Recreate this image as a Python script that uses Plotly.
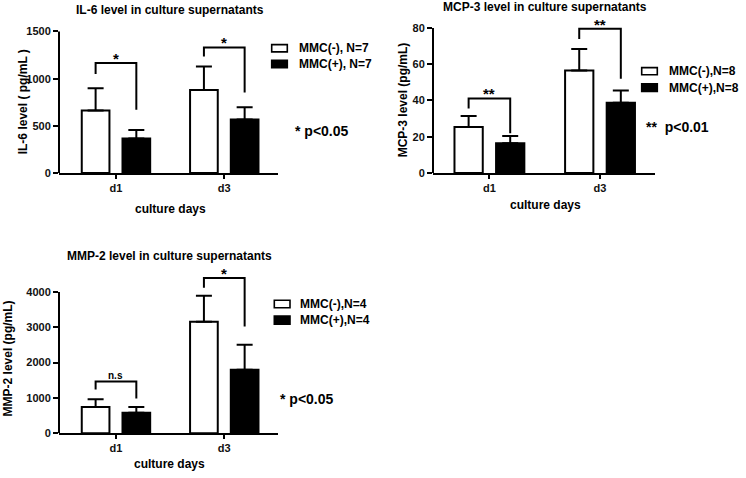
import plotly.graph_objects as go

W, H = 746, 478
FONT = "Liberation Sans, Arial, sans-serif"

days = ["d1", "d3"]

# ---- IL-6 ----
il6_neg = [664, 879]
il6_neg_err = [235, 249]
il6_pos = [366, 567]
il6_pos_err = [90, 131]
il6_br_top = [1165, 1331]
il6_br_left = [1051, 1234]
il6_br_right = [671, 854]
il6_sig = ["*", "*"]
il6_ticks = [0, 500, 1000, 1500]
il6_names = ["MMC(-), N=7", "MMC(+), N=7"]

# ---- MCP-3 ----
mcp3_neg = [25.4, 56.6]
mcp3_neg_err = [6.0, 11.9]
mcp3_pos = [16.4, 38.7]
mcp3_pos_err = [4.0, 6.8]
mcp3_br_top = [41.1, 79.6]
mcp3_br_left = [35.6, 74.0]
mcp3_br_right = [21.9, 52.0]
mcp3_sig = ["**", "**"]
mcp3_ticks = [0, 20, 40, 60, 80]
mcp3_names = ["MMC(-),N=8", "MMC(+),N=8"]

# ---- MMP-2 ----
mmp2_neg = [740, 3155]
mmp2_neg_err = [222, 742]
mmp2_pos = [580, 1798]
mmp2_pos_err = [159, 705]
mmp2_br_top = [1463, 4399]
mmp2_br_left = [1240, 4120]
mmp2_br_right = [981, 3024]
mmp2_sig = ["n.s", "*"]
mmp2_ticks = [0, 1000, 2000, 3000, 4000]
mmp2_names = ["MMC(-),N=4", "MMC(+),N=4"]

BARGAP = 0.248
BARGROUPGAP = 0.32


def px(xp):
    return xp / W


def py(yp):
    return 1 - yp / H


panels = [
    dict(ax="", neg=il6_neg, neg_err=il6_neg_err, pos=il6_pos, pos_err=il6_pos_err,
         top=il6_br_top, left=il6_br_left, right=il6_br_right, sig=il6_sig,
         ticks=il6_ticks, names=il6_names, yrange_top=1560,
         xdom=(59, 278), ydom_bottom=174, ydom_axis=30, xrange=[-0.526, 1.496],
         title="IL-6 level in culture supernatants", title_pos=(170, 8.5),
         ytitle="IL-6 level ( pg/mL )", ytitle_pos=(23, 102),
         xtitle_pos=(170, 211),
         leg_x=(271.7, 287.3), leg_y=[(43.3, 50.7), (59.3, 66.7)], leg_tx=296.7,
         p_text="* p<0.05", p_pos=(293, 131)),
    dict(ax="2", neg=mcp3_neg, neg_err=mcp3_neg_err, pos=mcp3_pos, pos_err=mcp3_pos_err,
         top=mcp3_br_top, left=mcp3_br_left, right=mcp3_br_right, sig=mcp3_sig,
         ticks=mcp3_ticks, names=mcp3_names, yrange_top=82.5,
         xdom=(433, 655), ydom_bottom=173.8, ydom_axis=26.5, xrange=[-0.51, 1.497],
         title="MCP-3 level in culture supernatants", title_pos=(545, 5.5),
         ytitle="MCP-3 level (pg/mL)", ytitle_pos=(403, 100),
         xtitle_pos=(545, 206),
         leg_x=(641.7, 657.3), leg_y=[(66.7, 74.0), (83.3, 91.0)], leg_tx=666.7,
         p_text="**  p<0.01", p_pos=(644, 127)),
    dict(ax="3", neg=mmp2_neg, neg_err=mmp2_neg_err, pos=mmp2_pos, pos_err=mmp2_pos_err,
         top=mmp2_br_top, left=mmp2_br_left, right=mmp2_br_right, sig=mmp2_sig,
         ticks=mmp2_ticks, names=mmp2_names, yrange_top=4480,
         xdom=(59, 278), ydom_bottom=438.5, ydom_axis=295, xrange=[-0.526, 1.496],
         title="MMP-2 level in culture supernatants", title_pos=(169, 258.5),
         ytitle="MMP-2 level (pg/mL)", ytitle_pos=(7.5, 363),
         xtitle_pos=(169, 470),
         leg_x=(274.3, 290.0), leg_y=[(303.3, 311.0), (319.3, 327.7)], leg_tx=298.3,
         p_text="* p<0.05", p_pos=(278, 404)),
]

fig = go.Figure()
shapes = []
annotations = []
layout_axes = {}

off = (1 - BARGAP) / 4  # half of a bar slot inside a group

for p in panels:
    a = p["ax"]
    xa, ya = "x" + a, "y" + a
    axis_max = p["ticks"][-1]
    pxu = (p["ydom_bottom"] - p["ydom_axis"]) / axis_max
    ytop_px = p["ydom_bottom"] - p["yrange_top"] * pxu

    fig.add_trace(go.Bar(
        x=days, y=p["neg"], name=p["names"][0], xaxis=xa, yaxis=ya, showlegend=False,
        marker=dict(color="white", line=dict(color="black", width=2)),
        error_y=dict(type="data", array=p["neg_err"], arrayminus=[0] * len(days),
                     symmetric=False, color="black", thickness=2, width=8),
    ))
    fig.add_trace(go.Bar(
        x=days, y=p["pos"], name=p["names"][1], xaxis=xa, yaxis=ya, showlegend=False,
        marker=dict(color="black", line=dict(color="black", width=2)),
        error_y=dict(type="data", array=p["pos_err"], arrayminus=[0] * len(days),
                     symmetric=False, color="black", thickness=2, width=8),
    ))

    tickfont = dict(family=FONT, size=11, color="#111", weight="bold")
    layout_axes["xaxis" + a] = dict(
        domain=[px(p["xdom"][0]), px(p["xdom"][1])], anchor=ya,
        range=p["xrange"], type="category", showline=True, linecolor="black",
        linewidth=2, ticks="outside", ticklen=4, tickwidth=2, tickcolor="black",
        showgrid=False, zeroline=False, tickfont=tickfont, fixedrange=True,
    )
    layout_axes["yaxis" + a] = dict(
        domain=[py(p["ydom_bottom"]), py(ytop_px)], anchor=xa,
        range=[0, p["yrange_top"]], showline=False, ticks="outside", ticklen=5,
        tickwidth=2, tickcolor="black", tickvals=p["ticks"], showgrid=False,
        zeroline=False, tickfont=tickfont, fixedrange=True,
    )
    # y axis line only up to the top tick
    shapes.append(dict(type="line", xref=xa + " domain", yref=ya, x0=0, x1=0,
                       y0=0, y1=axis_max, line=dict(color="black", width=2)))

    # significance brackets
    for i in range(len(days)):
        xl, xr = i - off, i + off
        shapes.append(dict(
            type="path", xref=xa, yref=ya,
            path=f"M{xl},{p['left'][i]} V{p['top'][i]} H{xr} V{p['right'][i]}",
            line=dict(color="black", width=2),
        ))
        is_ns = p["sig"][i] == "n.s"
        annotations.append(dict(
            x=i, y=p["top"][i], xref=xa, yref=ya, text=p["sig"][i], showarrow=False,
            yanchor="bottom", yshift=-1 if is_ns else -6,
            font=dict(family=FONT, size=10 if is_ns else 15, color="black", weight="bold"),
        ))

    annotations.append(dict(
        x=px(p["title_pos"][0]), y=py(p["title_pos"][1]), xref="paper", yref="paper",
        text=p["title"], showarrow=False, xanchor="center", yanchor="middle",
        font=dict(family=FONT, size=12, color="black", weight="bold"),
    ))
    annotations.append(dict(
        x=px(p["ytitle_pos"][0]), y=py(p["ytitle_pos"][1]), xref="paper", yref="paper",
        text=p["ytitle"], showarrow=False, textangle=-90, xanchor="center",
        yanchor="middle", font=dict(family=FONT, size=12, color="black", weight="bold"),
    ))
    annotations.append(dict(
        x=px(p["xtitle_pos"][0]), y=py(p["xtitle_pos"][1]), xref="paper", yref="paper",
        text="culture days", showarrow=False, xanchor="center", yanchor="middle",
        font=dict(family=FONT, size=12, color="black", weight="bold"),
    ))
    fills = ["white", "black"]
    for k in range(2):
        y0, y1 = p["leg_y"][k]
        shapes.append(dict(type="rect", xref="paper", yref="paper",
                           x0=px(p["leg_x"][0]), x1=px(p["leg_x"][1]),
                           y0=py(y1), y1=py(y0), fillcolor=fills[k],
                           line=dict(color="black", width=1.6)))
        annotations.append(dict(
            x=px(p["leg_tx"]), y=py((y0 + y1) / 2), xref="paper", yref="paper",
            text=p["names"][k], showarrow=False, xanchor="left", yanchor="middle",
            font=dict(family=FONT, size=12, color="black", weight="bold"),
        ))
    annotations.append(dict(
        x=px(p["p_pos"][0]), y=py(p["p_pos"][1]), xref="paper", yref="paper",
        text=p["p_text"], showarrow=False, xanchor="left", yanchor="middle",
        font=dict(family=FONT, size=14, color="black", weight="bold"),
    ))

fig.update_layout(
    width=W, height=H, margin=dict(l=0, r=0, t=0, b=0),
    paper_bgcolor="white", plot_bgcolor="white",
    barmode="group", bargap=BARGAP, bargroupgap=BARGROUPGAP,
    shapes=shapes, annotations=annotations, showlegend=False,
    font=dict(family=FONT, color="black"),
    **layout_axes,
)

fig.write_html(
    "out.html",
    config={"displayModeBar": False},
    post_script="document.body.style.margin='0';document.body.style.overflow='hidden';",
)
